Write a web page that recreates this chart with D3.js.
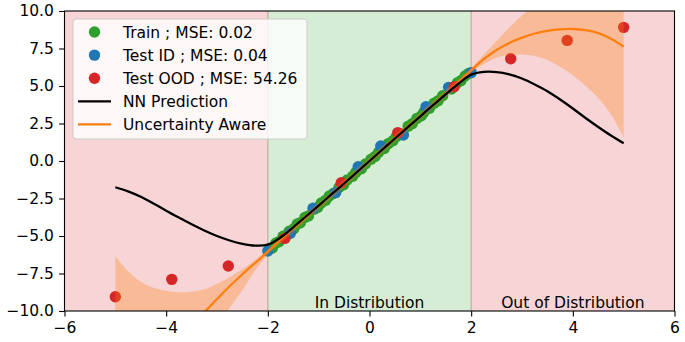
<!DOCTYPE html>
<html><head><meta charset="utf-8">
<script src="https://cdn.jsdelivr.net/npm/d3@7"></script>
<style>body{margin:0;background:#fff}svg{display:block;font-family:"DejaVu Sans",sans-serif}</style>
</head><body>
<script>
// ---- data ----
const xTicks = [-6,-4,-2,0,2,4,6];
const yTicks = [-10,-7.5,-5,-2.5,0,2.5,5,7.5,10];
const trainX = [-1.97,-1.91,-1.84,-1.78,-1.70,-1.62,-1.58,-1.49,-1.42,-1.36,-1.27,-1.20,-1.09,-1.02,-0.95,-0.86,-0.79,-0.71,-0.60,-0.51,-0.44,-0.33,-0.27,-0.16,-0.08,0.03,0.11,0.18,0.29,0.37,0.46,0.53,0.62,0.76,0.84,0.93,1.02,1.07,1.18,1.27,1.35,1.44,1.61,1.73,1.80,1.88,1.95];
const trainY = [-5.85,-5.80,-5.47,-5.38,-5.02,-4.93,-4.68,-4.52,-4.19,-4.12,-3.76,-3.66,-3.22,-3.10,-2.80,-2.62,-2.33,-2.17,-1.76,-1.58,-1.27,-1.02,-0.76,-0.52,-0.20,0.12,0.30,0.58,0.83,1.16,1.35,1.63,1.82,2.32,2.48,2.83,3.02,3.25,3.52,3.85,4.02,4.35,4.80,5.22,5.36,5.67,5.83];
const testIdX = [-2.0,-1.556,-1.111,-0.667,-0.222,0.222,0.667,1.111,1.556,2.0];
const testIdY = [-6.0,-4.82,-3.15,-2.11,-0.38,1.0,1.73,3.62,4.91,5.89];
const testOodX = [-5.0,-3.889,-2.778,-1.667,-0.556,0.556,1.667,2.778,3.889,5.0];
const testOodY = [-9.05,-7.89,-7.0,-5.16,-1.45,1.89,4.95,6.82,8.04,8.91];
const curveX = [-5,-4.75,-4.5,-4.25,-4,-3.75,-3.5,-3.25,-3,-2.75,-2.5,-2.25,-2,-1.75,-1.5,-1.25,-1,-0.75,-0.5,-0.25,0,0.25,0.5,0.75,1,1.25,1.5,1.75,2,2.25,2.5,2.75,3,3.25,3.5,3.75,4,4.25,4.5,4.75,5];
const nnY = [-1.75,-2.02,-2.38,-2.83,-3.31,-3.77,-4.22,-4.63,-5.0,-5.3,-5.52,-5.64,-5.58,-5.1,-4.42,-3.7,-2.97,-2.23,-1.5,-0.75,0.0,0.75,1.5,2.24,2.98,3.72,4.45,5.15,5.76,5.94,5.93,5.78,5.5,5.1,4.65,4.1,3.5,2.87,2.27,1.7,1.18];
const uaMean = [-19.0,-17.6,-16.2,-14.9,-13.6,-12.4,-11.2,-10.1,-9.2,-8.35,-7.55,-6.8,-6.05,-5.25,-4.5,-3.75,-3.0,-2.25,-1.5,-0.75,0.0,0.75,1.5,2.25,3.0,3.75,4.5,5.25,6.05,6.8,7.4,7.87,8.22,8.5,8.68,8.78,8.8,8.72,8.52,8.15,7.62];
const uaUpper = [-6.33,-7.35,-8.05,-8.45,-8.65,-8.75,-8.72,-8.55,-8.2,-7.75,-7.2,-6.6,-5.85,-5.0,-4.25,-3.5,-2.75,-2.0,-1.25,-0.5,0.25,1.0,1.75,2.5,3.25,4.0,4.75,5.5,6.2,7.1,8.0,8.9,9.7,10.4,11.0,11.5,12.0,12.5,12.9,13.2,13.5];
const uaLower = [-31.7,-27.9,-24.4,-21.4,-18.6,-16.1,-13.7,-12.3,-11.0,-9.8,-8.6,-7.3,-6.25,-5.5,-4.75,-4.0,-3.25,-2.5,-1.75,-1.0,-0.25,0.5,1.25,2.0,2.75,3.5,4.25,5.0,5.9,6.47,6.88,7.07,7.1,7.0,6.73,6.28,5.72,5.02,4.2,3.1,1.6];
const legendLabels = ["Train ; MSE: 0.02","Test ID ; MSE: 0.04","Test OOD ; MSE: 54.26","NN Prediction","Uncertainty Aware"];

// ---- chart ----
const W=685,H=342;
const x=d3.scaleLinear([-6,6],[64.5,674.5]);
const y=d3.scaleLinear([-10,10],[311,11]);
const C={green:"#2ca02c",blue:"#1f77b4",red:"#d62728",orange:"#ff7f0e"};
const svg=d3.select("body").append("svg").attr("width",W).attr("height",H);
svg.append("clipPath").attr("id","clip").append("rect")
  .attr("x",x(-6)).attr("y",y(10)).attr("width",x(6)-x(-6)).attr("height",y(-10)-y(10));
const g=svg.append("g").attr("clip-path","url(#clip)");

const spans=[[-6,-2,"#f7d4d5"],[-2,2,"#d5ecd5"],[2,6,"#f7d4d5"]];
g.selectAll("rect.span").data(spans).join("rect").attr("class","span")
  .attr("x",d=>x(d[0])).attr("width",d=>x(d[1])-x(d[0]))
  .attr("y",y(10)).attr("height",y(-10)-y(10)).attr("fill",d=>d[2]);
g.selectAll("line.edge").data([-2,2]).join("line").attr("class","edge")
  .attr("x1",d=>x(d)).attr("x2",d=>x(d)).attr("y1",y(10)).attr("y2",y(-10))
  .attr("stroke","#c9ada3").attr("stroke-width",1.3);

function scatter(xs,ys,col){
  g.append("g").selectAll("circle").data(xs).join("circle")
    .attr("cx",(d)=>x(d)).attr("cy",(d,i)=>y(ys[i])).attr("r",5.7).attr("fill",col);
}
scatter(trainX,trainY,C.green);
scatter(testIdX,testIdY,C.blue);
scatter(testOodX,testOodY,C.red);

const crv=d3.curveCatmullRom.alpha(0.5);
const area=d3.area().x((d,i)=>x(curveX[i])).y0((d,i)=>y(uaLower[i])).y1((d,i)=>y(uaUpper[i])).curve(crv);
g.append("path").datum(curveX).attr("d",area).attr("fill",C.orange).attr("fill-opacity",0.3);

const lineOf=ys=>d3.line().x((d,i)=>x(curveX[i])).y((d,i)=>y(ys[i])).curve(crv)(curveX);
g.append("path").attr("d",lineOf(uaMean)).attr("fill","none").attr("stroke",C.orange).attr("stroke-width",2.3);
g.append("path").attr("d",lineOf(nnY)).attr("fill","none").attr("stroke","#000").attr("stroke-width",2.3);

// region labels
svg.append("text").attr("x",x(0)).attr("y",307.5).attr("text-anchor","middle").attr("font-size",15.5).text("In Distribution");
svg.append("text").attr("x",x(4)).attr("y",307.5).attr("text-anchor","middle").attr("font-size",15.5).text("Out of Distribution");

// axes
const fy=d3.format(".1f");
const ax=svg.append("g").attr("transform",`translate(0,${y(-10)})`)
  .call(d3.axisBottom(x).tickValues(xTicks).tickFormat(d3.format("d")).tickSize(5.4).tickPadding(5.2).tickSizeOuter(0));
const ay=svg.append("g").attr("transform",`translate(${x(-6)},0)`)
  .call(d3.axisLeft(y).tickValues(yTicks).tickFormat(fy).tickSize(5.4).tickPadding(5.2).tickSizeOuter(0));
[ax,ay].forEach(a=>{a.selectAll("text").attr("font-size",15.5).attr("font-family","DejaVu Sans").attr("fill","#000");
  a.selectAll("line").attr("stroke","#000").attr("stroke-width",1.1);a.select(".domain").remove();});
svg.append("rect").attr("x",x(-6)).attr("y",y(10)).attr("width",x(6)-x(-6)).attr("height",y(-10)-y(10))
  .attr("fill","none").attr("stroke","#000").attr("stroke-width",1.1);

// legend
const lg=svg.append("g");
lg.append("rect").attr("x",73).attr("y",19).attr("width",234).attr("height",120).attr("rx",3)
  .attr("fill","#fff").attr("fill-opacity",0.8).attr("stroke","#cccccc").attr("stroke-width",1);
const kinds=[["dot",C.green],["dot",C.blue],["dot",C.red],["line","#000"],["line",C.orange]];
legendLabels.forEach((t,i)=>{
  const cy=32+i*23.1;
  if(kinds[i][0]==="dot") lg.append("circle").attr("cx",94.5).attr("cy",cy).attr("r",5.7).attr("fill",kinds[i][1]);
  else lg.append("line").attr("x1",78).attr("x2",111).attr("y1",cy).attr("y2",cy).attr("stroke",kinds[i][1]).attr("stroke-width",2.3);
  lg.append("text").attr("x",123).attr("y",cy).attr("dy","0.36em").attr("font-size",15.5).text(t);
});
</script>
</body></html>
